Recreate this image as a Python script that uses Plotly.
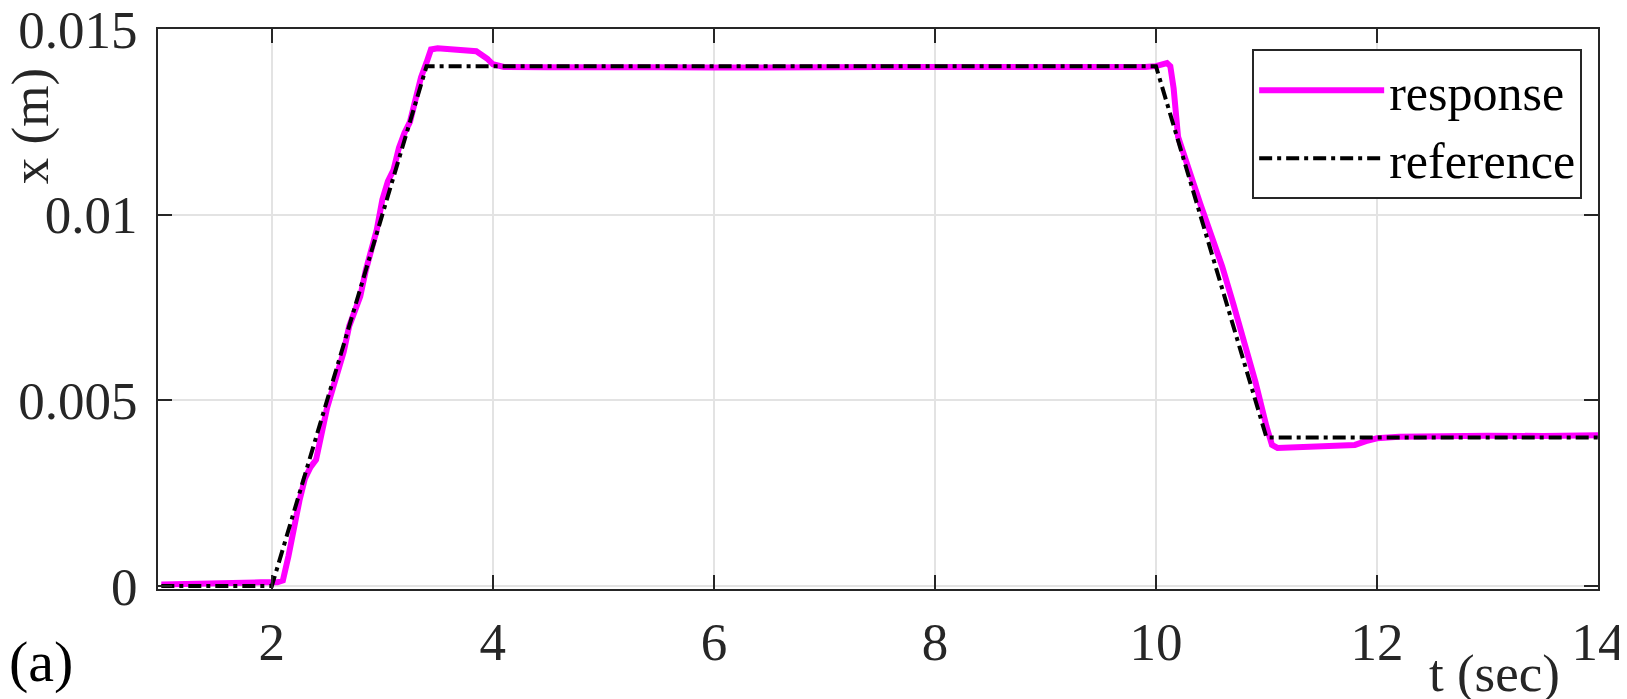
import plotly.graph_objs as go

# reference trajectory (corner points)
ref_t = [1.0, 2.0, 3.4, 10.0, 11.0, 14.0]
ref_x = [0.0, 0.0, 0.014, 0.014, 0.004, 0.004]

resp_t = [1.0, 1.3, 1.6, 1.9, 2.05, 2.1, 2.15, 2.2, 2.25, 2.3, 2.35, 2.4, 2.45, 2.5, 2.55,
          2.6, 2.65, 2.7, 2.75, 2.8, 2.85, 2.9, 2.95, 3.0, 3.05, 3.1, 3.15, 3.2, 3.25,
          3.3, 3.35, 3.4, 3.44, 3.5, 3.6, 3.7, 3.8, 3.85, 3.9, 3.95, 4.0, 4.1, 4.5,
          5.0, 5.5, 6.0, 6.5, 7.0, 7.5, 8.0, 8.5, 9.0, 9.5, 9.9, 10.0, 10.05, 10.1,
          10.13, 10.16, 10.2, 10.25, 10.3, 10.4, 10.5, 10.6, 10.7, 10.8, 10.9, 11.0,
          11.05, 11.1, 11.3, 11.5, 11.7, 11.8, 11.9, 12.0, 12.2, 12.5, 13.0, 13.5, 14.0]
resp_x = [0.00004, 0.00007, 0.0001, 0.0001, 0.0001, 0.00015, 0.0008, 0.0016, 0.0023, 0.0029, 0.0032,
          0.0034, 0.0041, 0.0048, 0.0053, 0.0058, 0.0063, 0.0070, 0.0074, 0.0078, 0.0085,
          0.0091, 0.0096, 0.0104, 0.0109, 0.0112, 0.0118, 0.0122, 0.0125, 0.0131, 0.0137,
          0.0141, 0.01445, 0.01448, 0.01446, 0.01447, 0.01445, 0.0144, 0.0143, 0.0142,
          0.01405, 0.01398, 0.01397, 0.01395, 0.01397, 0.01396, 0.01398, 0.01397, 0.01398,
          0.01398, 0.01397, 0.01399, 0.01398, 0.01398, 0.014, 0.01402, 0.01408, 0.0140,
          0.0134, 0.0121, 0.0116, 0.0112, 0.0103, 0.0095, 0.0086, 0.0076, 0.0066, 0.0055,
          0.0043, 0.0038, 0.00372, 0.00374, 0.00373, 0.00376, 0.0038, 0.0039, 0.00398,
          0.00402, 0.00404, 0.00405, 0.00404, 0.00406]

font_family = 'Liberation Serif, Times New Roman, serif'
ink = '#262626'

fig = go.Figure()
fig.add_trace(go.Scatter(x=resp_t, y=resp_x, mode='lines', name='response',
                         line=dict(color='#FF00FF', width=6)))
fig.add_trace(go.Scatter(x=ref_t, y=ref_x, mode='lines', name='reference',
                         line=dict(color='black', width=4, dash='13px,5px,4px,5px')))

# page body has an 8px margin, so the figure is 8px smaller and margins shifted
fig.update_layout(
    width=1619, height=691,
    margin=dict(l=150, r=29, t=21, b=110, autoexpand=False),
    paper_bgcolor='white', plot_bgcolor='white',
    font=dict(family=font_family, size=53, color=ink),
    showlegend=True,
    legend=dict(x=0.989, y=0.964, xanchor='right', yanchor='top',
                bordercolor=ink, borderwidth=2, bgcolor='white',
                font=dict(family=font_family, size=50, color='black'),
                itemwidth=125, tracegroupgap=0),
)
fig.update_xaxes(range=[0.97, 14], tickvals=[2, 4, 6, 8, 10, 12, 14],
                 automargin=False, ticklabeloverflow='allow',
                 showgrid=True, gridcolor='#e3e3e3', gridwidth=2,
                 showline=True, linecolor=ink, linewidth=2, mirror='ticks',
                 ticks='inside', ticklen=14, tickwidth=2, tickcolor=ink,
                 ticklabelstandoff=5, zeroline=False)
fig.update_yaxes(range=[-0.00008, 0.015], tickvals=[0, 0.005, 0.01, 0.015],
                 ticktext=['0', '0.005', '0.01', '0.015'],
                 automargin=False, ticklabeloverflow='allow',
                 showgrid=True, gridcolor='#e3e3e3', gridwidth=2,
                 showline=True, linecolor=ink, linewidth=2, mirror='ticks',
                 ticks='inside', ticklen=14, tickwidth=2, tickcolor=ink,
                 ticklabelstandoff=8, zeroline=False)

fig.add_annotation(text='x (m)', textangle=-90, xref='paper', yref='paper',
                   x=-0.088, y=0.827, xanchor='center', yanchor='middle',
                   showarrow=False, font=dict(size=53, color=ink))
fig.add_annotation(text='t (sec)', xref='paper', yref='paper',
                   x=0.928, y=-0.15, xanchor='center', yanchor='middle',
                   showarrow=False, font=dict(size=53, color=ink))
fig.add_annotation(text='(a)', xref='paper', yref='paper',
                   x=-0.081, y=-0.13, xanchor='center', yanchor='middle',
                   showarrow=False, font=dict(size=58, color='black'))

fig.write_html("out.html")
